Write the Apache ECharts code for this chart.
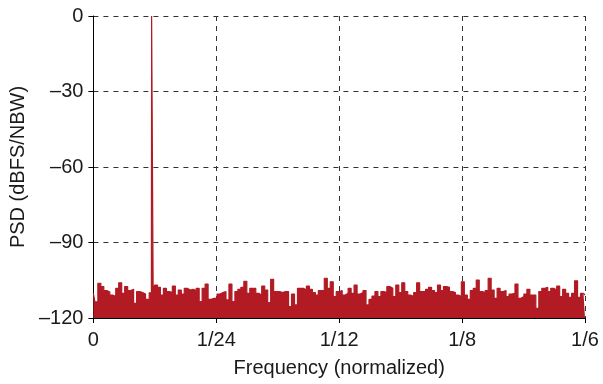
<!DOCTYPE html>
<html>
<head>
<meta charset="utf-8">
<title>PSD</title>
<script src="https://cdn.jsdelivr.net/npm/echarts@6/dist/echarts.min.js"></script>
<style>
  html, body { margin: 0; padding: 0; background: #fff; }
  #chart { width: 603px; height: 384px; }
</style>
</head>
<body>
<div id="chart"></div>
<script>
// Frequency axis ticks (normalized frequency, 0 .. 1/6)
const xTickValues = [0, 1 / 24, 1 / 12, 1 / 8, 1 / 6];
const xTickLabels = ['0', '1/24', '1/12', '1/8', '1/6'];

// Noise floor, evenly spaced bins from 0 to 1/6 (dBFS/NBW)
const noiseLevel = [
  -110.2, -113.6, -106.2, -107.5, -109.1, -109.7, -110.9, -111.5, -108.2, -106.0,
  -110.2, -107.5, -109.1, -108.6, -114.2, -109.5, -109.9, -110.5, -112.6, -110.5,
  -112.2, -106.9, -107.8, -110.9, -108.2, -109.5, -109.9, -107.3,
  -110.9, -108.9, -110.5, -108.2, -108.9, -108.6, -109.1, -108.2, -113.5, -108.2,
  -106.5, -112.6, -112.2, -112.2, -110.5, -109.9, -109.5, -112.8, -106.5, -113.5,
  -109.5, -108.6, -107.8, -105.4, -110.2, -108.2, -108.2,
  -110.2, -110.9, -107.3, -108.9, -113.9, -104.6, -109.5, -109.5, -109.9, -109.5,
  -109.5, -115.5, -110.5, -114.8, -108.2, -108.2, -108.9, -107.3, -108.6, -109.9,
  -110.9, -109.1, -109.1, -104.2, -108.2, -105.6, -111.5,
  -109.5, -109.1, -110.9, -110.2, -108.2, -110.2, -106.9, -110.5, -109.9, -109.1,
  -114.8, -112.6, -111.3, -109.5, -111.5, -109.5, -109.9, -107.5, -108.2, -111.5,
  -106.9, -109.9, -106.0, -109.5, -110.9, -111.5, -109.9, -106.0,
  -109.5, -109.5, -108.6, -107.8, -109.1, -109.9, -106.9, -109.1, -107.5, -107.8,
  -109.5, -109.9, -110.9, -111.5, -105.6, -110.9, -112.6, -109.1, -108.2, -104.9,
  -109.5, -109.9, -109.1, -104.2, -108.9, -112.2, -108.2,
  -109.5, -109.1, -111.5, -110.5, -110.2, -106.5, -112.2, -111.5, -110.5, -108.6,
  -110.9, -110.9, -116.2, -109.5, -108.2, -107.8, -109.5, -108.2, -108.9, -107.3,
  -111.5, -108.6, -110.2, -111.8, -110.2, -105.2, -111.8, -110.2, -110.9
];

// Test tone
const peakFreq = [0.01966, 0.01982, 0.02018, 0.02034];
const peakLevel = [-110.0, 0.0, 0.0, -109.0];

const fMax = 1 / 6;
const binStep = fMax / (noiseLevel.length - 1);

// Merge noise bins and tone samples into one trace, ordered by frequency
const trace = [];
noiseLevel.forEach((v, i) => {
  const f = i * binStep;
  if (f < peakFreq[0] - binStep / 2 || f > peakFreq[peakFreq.length - 1] + binStep / 2) trace.push([f, v]);
});
peakFreq.forEach((f, i) => trace.push([f, peakLevel[i]]));
trace.sort((a, b) => a[0] - b[0]);

const traceColor = '#b21b24';
const textColor = '#1a1a1a';
const fontFamily = '"Liberation Sans", Arial, Helvetica, sans-serif';

const chart = echarts.init(document.getElementById('chart'), null, { renderer: 'canvas' });
chart.setOption({
  animation: false,
  backgroundColor: '#fff',
  grid: { left: 90, right: 18, top: 16, bottom: 66, containLabel: false },
  xAxis: {
    type: 'value',
    min: 0,
    max: fMax,
    interval: 1 / 24,
    name: 'Frequency (normalized)',
    nameLocation: 'middle',
    nameGap: 40,
    nameTextStyle: { fontSize: 20, color: textColor, fontFamily },
    axisLine: { show: true, onZero: false, lineStyle: { color: '#000', width: 1 } },
    axisTick: { show: true, inside: false, length: 5, lineStyle: { color: '#000', width: 1 } },
    axisLabel: {
      margin: 12,
      fontSize: 20,
      color: textColor,
      fontFamily,
      formatter: v => {
        const k = xTickValues.findIndex(t => Math.abs(t - v) < 1e-9);
        return k >= 0 ? xTickLabels[k] : '';
      }
    },
    splitLine: { show: true, lineStyle: { color: '#333', width: 1, type: [5, 5] } }
  },
  yAxis: {
    type: 'value',
    min: -120,
    max: 0,
    interval: 30,
    name: 'PSD (dBFS/NBW)',
    nameLocation: 'middle',
    nameGap: 59,
    nameTextStyle: { fontSize: 20, color: textColor, fontFamily },
    axisLine: { show: true, lineStyle: { color: '#000', width: 1 } },
    axisTick: { show: true, inside: false, length: 5, lineStyle: { color: '#000', width: 1 } },
    axisLabel: {
      margin: 10,
      fontSize: 20,
      color: textColor,
      fontFamily,
      formatter: v => (v < 0 ? '\u2013' + Math.abs(v) : String(v))
    },
    splitLine: { show: true, lineStyle: { color: '#333', width: 1, type: [5, 5] } }
  },
  series: [{
    type: 'line',
    data: trace,
    step: 'middle',
    symbol: 'none',
    clip: true,
    lineStyle: { color: traceColor, width: 1.2 },
    areaStyle: { color: traceColor, opacity: 1, origin: 'start' },
    z: 3
  }]
});
</script>
</body>
</html>
